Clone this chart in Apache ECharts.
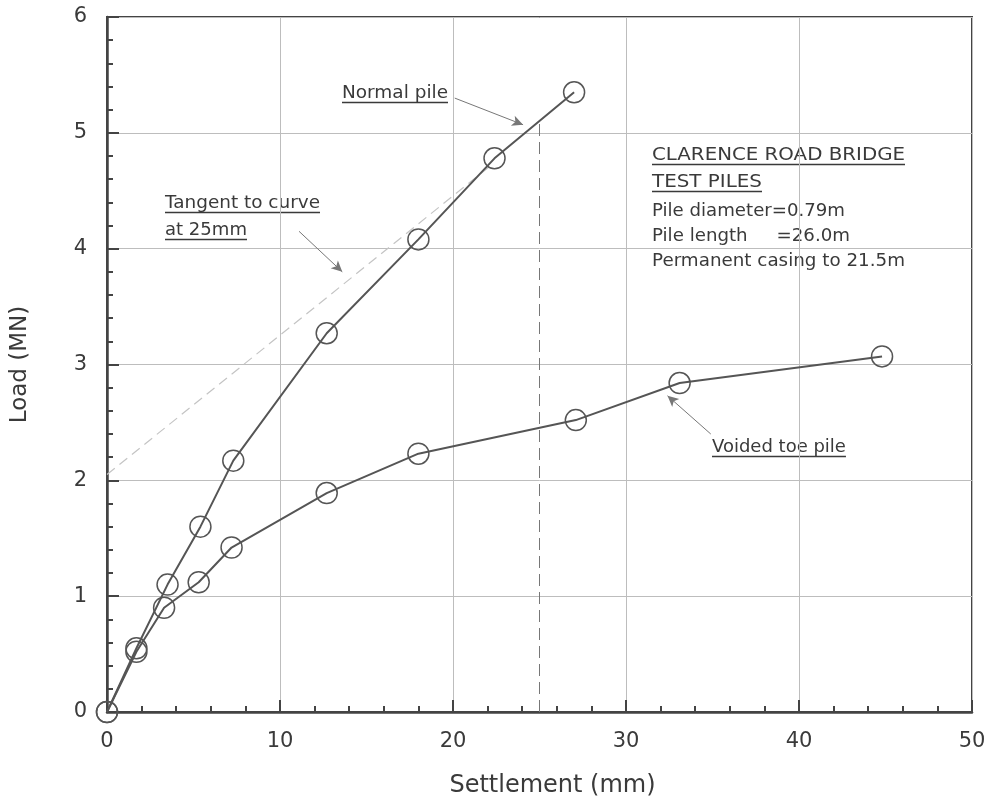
<!DOCTYPE html>
<html><head><meta charset="utf-8">
<script src="https://cdn.jsdelivr.net/npm/echarts@6/dist/echarts.min.js"></script>
<style>html,body{margin:0;padding:0;background:#fff}#c{width:990px;height:803px}</style>
</head><body><div id="c"></div>
<script>
// Data
const normalX = [0, 1.7, 3.5, 5.4, 7.3, 12.7, 18.0, 22.4, 27.0];
const normalY = [0, 0.55, 1.10, 1.60, 2.17, 3.27, 4.08, 4.78, 5.35];
const voidedX = [0, 1.7, 3.3, 5.3, 7.2, 12.7, 18.0, 27.1, 33.1, 44.8];
const voidedY = [0, 0.52, 0.90, 1.12, 1.42, 1.89, 2.23, 2.52, 2.84, 3.07];
const tangentX = [0, 22.2];
const tangentY = [2.05, 4.72];
const refX = [25, 25];
const refY = [0, 5.1];
const xTicks = [0, 10, 20, 30, 40, 50];
const yTicks = [0, 1, 2, 3, 4, 5, 6];
const infoLines = ['CLARENCE ROAD BRIDGE', 'TEST PILES', 'Pile diameter=0.79m', 'Pile length     =26.0m', 'Permanent casing to 21.5m'];
const arrowFrom = [[20.1, 5.3], [11.1, 4.15], [34.9, 2.4]];
const arrowTo = [[24.05, 5.07], [13.6, 3.8], [32.4, 2.73]];

const FONT = '"DejaVu Sans", "Liberation Sans", Arial, sans-serif';
const TXT = '#3a3a3a';
const zip = (a, b) => a.map((v, i) => [v, b[i]]);

const chart = echarts.init(document.getElementById('c'), null, {renderer: 'canvas'});

const cv = document.createElement('canvas').getContext('2d');
function tw(s, size) { cv.font = size + 'px ' + FONT; return cv.measureText(s).width; }

const graphics = [];
// target width (px) lets caps lines match the wider capitals of the original face
function label(text, x, cy, size, underline, targetW) {
  const w0 = tw(text, size);
  const sx = targetW ? targetW / w0 : 1;
  graphics.push({type: 'text', x: x, y: cy, scaleX: sx, style: {text: text, font: size + 'px ' + FONT, fill: TXT, verticalAlign: 'middle', align: 'left'}});
  if (underline) {
    const w = w0 * sx;
    const uy = Math.round(cy + size * 0.5) + 0.5;
    graphics.push({type: 'line', shape: {x1: x, y1: uy, x2: x + w, y2: uy}, style: {stroke: TXT, lineWidth: 1.3}});
  }
}
label('Normal pile', 342, 93, 18, true, 106);
label('Tangent to curve', 165, 203, 18, true, 155);
label('at 25mm', 165, 230, 18, true, 82);
label('Voided toe pile', 712, 447, 18, true);
const infoCy = [155, 182, 211, 236, 261];
const infoW = [253, 110, 193, null, 253];
infoLines.forEach((t, i) => label(t, 652, infoCy[i], 18.2, i < 2, infoW[i]));

const option = {
  backgroundColor: '#fff',
  animation: false,
  grid: {left: 107, top: 17, right: 18, bottom: 91, show: true, borderColor: '#444', borderWidth: 2, backgroundColor: 'transparent'},
  xAxis: {
    type: 'value', min: 0, max: 50, interval: 10,
    name: 'Settlement (mm)', nameLocation: 'middle', nameGap: 62,
    nameTextStyle: {fontFamily: FONT, fontSize: 24, color: TXT, padding: [0, 0, 0, 26]},
    axisLine: {lineStyle: {color: '#444', width: 2.5}},
    axisTick: {inside: true, length: 12, lineStyle: {color: '#444', width: 2}},
    minorTick: {show: true, splitNumber: 5, length: 6, lineStyle: {color: '#444', width: 2}},
    axisLabel: {fontFamily: FONT, fontSize: 21, color: TXT, margin: 19, formatter: v => xTicks.includes(v) ? String(v) : ''},
    splitLine: {show: true, lineStyle: {color: '#bdbdbd', width: 1}}
  },
  yAxis: {
    type: 'value', min: 0, max: 6, interval: 1,
    name: 'Load (MN)', nameLocation: 'middle', nameGap: 75, nameRotate: 90,
    nameTextStyle: {fontFamily: FONT, fontSize: 23, color: TXT},
    axisLine: {lineStyle: {color: '#444', width: 2.5}},
    axisTick: {inside: true, length: 12, lineStyle: {color: '#444', width: 2}},
    minorTick: {show: true, splitNumber: 5, length: 6, lineStyle: {color: '#444', width: 2}},
    axisLabel: {fontFamily: FONT, fontSize: 21, color: TXT, margin: 20, formatter: v => yTicks.includes(v) ? String(v) : ''},
    splitLine: {show: true, lineStyle: {color: '#bdbdbd', width: 1}}
  },
  series: [
    {
      name: 'Tangent', type: 'line', data: zip(tangentX, tangentY), symbol: 'none',
      lineStyle: {color: '#c4c4c4', width: 1.2, type: [10, 6]}, z: 1
    },
    {
      name: 'Ref25', type: 'line', data: zip(refX, refY), symbol: 'none',
      lineStyle: {color: '#777', width: 1, type: [12, 6]}, z: 1
    },
    {
      name: 'Normal pile', type: 'line', data: zip(normalX, normalY),
      symbol: 'circle', symbolSize: 21, showAllSymbol: true,
      itemStyle: {color: 'transparent', borderColor: '#555', borderWidth: 1.5},
      lineStyle: {color: '#555', width: 2}, z: 3,
      markLine: {
        silent: true, symbol: ['none', 'arrow'], symbolSize: [8, 11],
        label: {show: false},
        lineStyle: {color: '#777', width: 1, type: 'solid'},
        data: arrowFrom.map((f, i) => [{coord: f}, {coord: arrowTo[i]}])
      }
    },
    {
      name: 'Voided toe pile', type: 'line', data: zip(voidedX, voidedY),
      symbol: 'circle', symbolSize: 21, showAllSymbol: true,
      itemStyle: {color: 'transparent', borderColor: '#555', borderWidth: 1.5},
      lineStyle: {color: '#555', width: 2}, z: 3
    }
  ],
  graphic: graphics
};
chart.setOption(option);
</script>
</body></html>
